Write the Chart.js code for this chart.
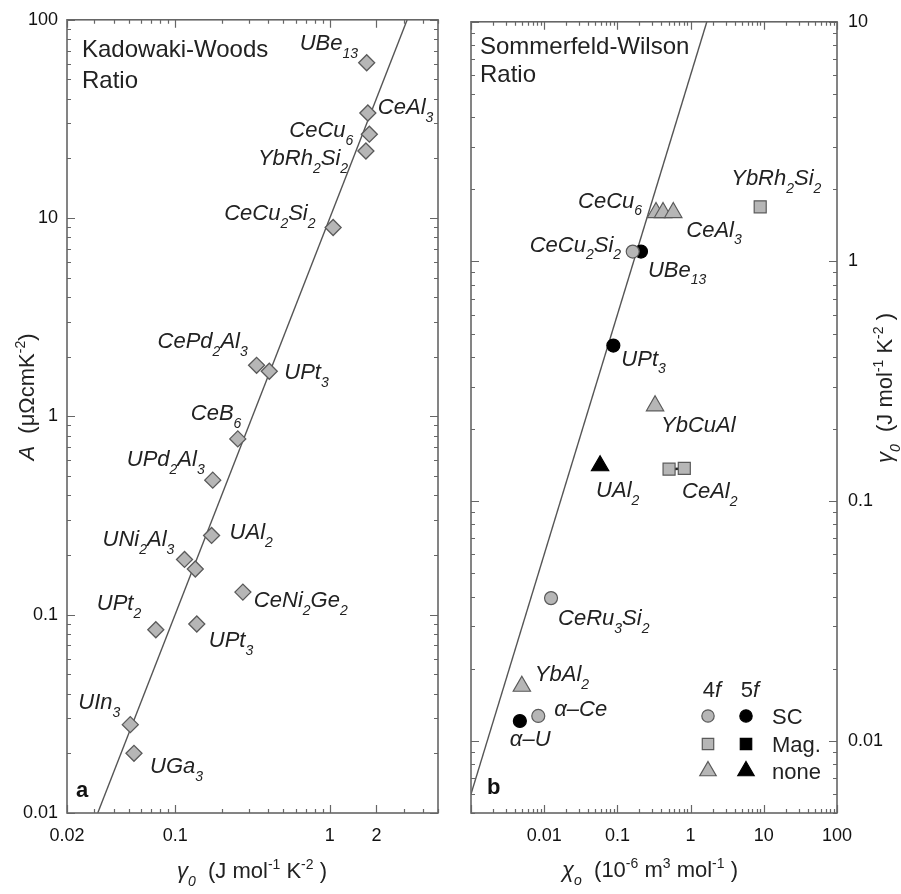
<!DOCTYPE html>
<html>
<head>
<meta charset="utf-8">
<script src="https://cdn.jsdelivr.net/npm/chart.js@4.4.0/dist/chart.umd.min.js"></script>
<style>
  html, body { margin: 0; padding: 0; background: #fff; }
  #wrap { position: relative; width: 901px; height: 894px; }
  #left { position: absolute; left: 0; top: 0; }
  #right { position: absolute; left: 450px; top: 0; }
</style>
</head>
<body>
<div id="wrap">
  <canvas id="left" width="450" height="894" style="width:450px;height:894px"></canvas>
  <canvas id="right" width="451" height="894" style="width:451px;height:894px"></canvas>
</div>
<script>
const FONT = '"Liberation Sans", Arial, Helvetica, sans-serif';
const INK = '#222';
const GREY = '#b6b6b6';
const EDGE = '#5a5a5a';

// ---- panel a : Kadowaki-Woods ratio, A vs gamma0 ----
const kwNames = ['UBe_{13}', 'CeAl_3', 'CeCu_6', 'YbRh_2Si_2', 'CeCu_2Si_2', 'CePd_2Al_3', 'UPt_3', 'CeB_6',
  'UPd_2Al_3', 'UAl_2', 'UNi_2Al_3', '', 'CeNi_2Ge_2', 'UPt_2', 'UPt_3', 'UIn_3', 'UGa_3'];
const kwGamma = [1.73, 1.76, 1.80, 1.71, 1.05, 0.336, 0.406, 0.254, 0.175, 0.172, 0.115, 0.135, 0.274, 0.075, 0.138, 0.0513, 0.0542];
const kwA = [60.7, 33.9, 26.5, 21.8, 8.97, 1.81, 1.69, 0.77, 0.477, 0.251, 0.19, 0.17, 0.13, 0.084, 0.0898, 0.0279, 0.020];
const kwLineGamma = [0.0316, 3.16];
const kwLineA = [0.01, 100];
const kwXTicks = [0.02, 0.1, 1, 2];
const kwYTicks = [0.01, 0.1, 1, 10, 100];

// ---- panel b : Sommerfeld-Wilson ratio, gamma0 vs chi0 ----
const swNames = ['CeCu_6', '', 'CeAl_3', 'YbRh_2Si_2', 'CeCu_2Si_2', 'UBe_{13}', 'UPt_3', 'YbCuAl', 'UAl_2',
  'CeAl_2', '', 'CeRu_3Si_2', 'YbAl_2', 'α–Ce', 'α–U'];
const swChi = [0.337, 0.42, 0.58, 8.93, 0.162, 0.21, 0.088, 0.327, 0.058, 0.508, 0.82, 0.0124, 0.00495, 0.0083, 0.00465];
const swGamma = [1.60, 1.60, 1.60, 1.69, 1.10, 1.10, 0.446, 0.25, 0.1405, 0.136, 0.137, 0.0394, 0.0169, 0.0127, 0.0121];
const swShell = ['4f', '4f', '4f', '4f', '4f', '5f', '5f', '4f', '5f', '4f', '4f', '4f', '4f', '4f', '5f'];
const swKind = ['none', 'none', 'none', 'Mag.', 'SC', 'SC', 'SC', 'none', 'none', 'Mag.', 'Mag.', 'SC', 'none', 'SC', 'SC'];
const swLineChi = [0.001, 1.667];
const swLineGamma = [0.006, 10];
const swXTicks = [0.01, 0.1, 1, 10, 100];
const swYTicks = [0.01, 0.1, 1, 10];
const legendShells = ['4f', '5f'];
const legendKinds = ['SC', 'Mag.', 'none'];

// label placement (pixels from the marker: text start, baseline)
const kwLabelOffsets = [[-67, -13], [10, 1], [-80, 3], [-108, 14], [-109, -7], [-99, -17], [15, 8], [-47, -19],
  [-86, -14], [18, 4], [-82, -13], null, [11, 15], [-59, -20], [12, 23], [-52, -16], [16, 20]];
const swLabelOffsets = [[-78, -5], null, [13, 24], [-29, -22], [-103, 0], [7, 25], [8, 20], [6, 26], [-4, 31],
  [13, 29], null, [7, 27], [13, -5], [16, 0], [-10, 25]];

const shellColor = { '4f': GREY, '5f': '#000' };
const shellEdge = { '4f': EDGE, '5f': '#000' };
const kindStyle = { 'SC': ['circle', 6.5], 'Mag.': ['rect', 8.5], 'none': ['triangle', 10] };

// ---------- rich text (italic, sub/superscripts) ----------
function parseRich(str, italic) {
  const parts = [];
  let it = italic, i = 0, buf = '';
  const flush = () => { if (buf) { parts.push({ t: buf, k: '', it }); buf = ''; } };
  while (i < str.length) {
    const c = str[i];
    if (c === '*') { flush(); it = !it; i++; }
    else if (c === '_' || c === '^') {
      flush();
      let t;
      if (str[i + 1] === '{') { const j = str.indexOf('}', i); t = str.slice(i + 2, j); i = j + 1; }
      else { t = str[i + 1]; i += 2; }
      parts.push({ t, k: c, it });
    } else { buf += c; i++; }
  }
  flush();
  return parts;
}

function drawRich(ctx, str, x, y, o) {
  const size = o.size || 22;
  const parts = parseRich(str, o.italic !== false);
  const font = p => (p.it ? 'italic ' : '') + (o.bold ? 'bold ' : '') + (p.k ? Math.round(size * 0.64) : size) + 'px ' + FONT;
  let w = 0;
  parts.forEach(p => { ctx.font = font(p); p.w = ctx.measureText(p.t).width; w += p.w; });
  let cx = o.align === 'center' ? x - w / 2 : o.align === 'right' ? x - w : x;
  ctx.save();
  ctx.fillStyle = o.color || INK;
  ctx.textBaseline = 'alphabetic';
  ctx.textAlign = 'left';
  parts.forEach(p => {
    ctx.font = font(p);
    const dy = p.k === '_' ? size * 0.36 : p.k === '^' ? -size * 0.42 : 0;
    ctx.fillText(p.t, cx, y + dy);
    cx += p.w;
  });
  ctx.restore();
}

function drawRichUp(ctx, str, x, y, o) {
  ctx.save();
  ctx.translate(x, y);
  ctx.rotate(-Math.PI / 2);
  drawRich(ctx, str, 0, 0, Object.assign({}, o, { align: 'center' }));
  ctx.restore();
}

// ---------- frame with inward ticks ----------
function decadeMarks(min, max, labelled) {
  const out = [];
  for (let d = Math.floor(Math.log10(min)); d <= Math.ceil(Math.log10(max)); d++) {
    for (let m = 1; m <= 9; m++) {
      const v = +(m * Math.pow(10, d)).toPrecision(6);
      if (v < min * 0.999 || v > max * 1.001) continue;
      out.push({ v, major: m === 1 || labelled.includes(v) });
    }
  }
  return out;
}

function framePlugin(xTicks, yTicks) {
  return {
    id: 'frame',
    afterDatasetsDraw(chart) {
      const { ctx, chartArea: a, scales } = chart;
      ctx.save();
      ctx.strokeStyle = '#666';
      ctx.lineWidth = 1.2;
      ctx.beginPath();
      decadeMarks(scales.x.min, scales.x.max, xTicks).forEach(t => {
        const px = Math.round(scales.x.getPixelForValue(t.v)) + 0.5;
        const L = t.major ? 8 : 4;
        ctx.moveTo(px, a.bottom); ctx.lineTo(px, a.bottom - L);
        ctx.moveTo(px, a.top); ctx.lineTo(px, a.top + L);
      });
      decadeMarks(scales.y.min, scales.y.max, yTicks).forEach(t => {
        const py = Math.round(scales.y.getPixelForValue(t.v)) + 0.5;
        const L = t.major ? 8 : 4;
        ctx.moveTo(a.left, py); ctx.lineTo(a.left + L, py);
        ctx.moveTo(a.right, py); ctx.lineTo(a.right - L, py);
      });
      ctx.stroke();
      ctx.lineWidth = 1.6;
      ctx.strokeRect(a.left, a.top, a.right - a.left, a.bottom - a.top);
      ctx.restore();
    }
  };
}

function labelPlugin(names, offsets) {
  return {
    id: 'pointLabels',
    afterDatasetsDraw(chart) {
      const { ctx, scales } = chart;
      const src = chart.data.datasets.find(d => d.labelSource).labelSource;
      names.forEach((n, i) => {
        if (!n || !offsets[i]) return;
        const px = scales.x.getPixelForValue(src[0][i]);
        const py = scales.y.getPixelForValue(src[1][i]);
        drawRich(ctx, n, px + offsets[i][0], py + offsets[i][1], { size: 22 });
      });
    }
  };
}

function axisScale(min, max, ticks, pos, fitSize, pad) {
  const horizontal = pos === 'bottom';
  return {
    type: 'logarithmic', position: pos, min, max, bounds: 'data',
    grid: { display: false, drawTicks: false }, border: { display: false },
    ticks: {
      autoSkip: false, maxRotation: 0, padding: pad, color: '#111',
      font: { family: FONT, size: 18 },
      callback: v => String(v)
    },
    afterBuildTicks: s => { s.ticks = ticks.map(v => ({ value: v })); },
    afterFit: s => { if (horizontal) s.height = fitSize; else s.width = fitSize; }
  };
}

// ---------- panel a ----------
const kwPoints = kwGamma.map((g, i) => ({ x: g, y: kwA[i] }));
new Chart(document.getElementById('left').getContext('2d'), {
  type: 'scatter',
  data: {
    datasets: [
      {
        data: kwPoints, labelSource: [kwGamma, kwA],
        pointStyle: 'rectRot', pointRadius: 8, pointBackgroundColor: GREY,
        pointBorderColor: EDGE, pointBorderWidth: 1.3, order: 0
      },
      {
        type: 'line', data: kwLineGamma.map((g, i) => ({ x: g, y: kwLineA[i] })),
        borderColor: '#555', borderWidth: 1.4, pointRadius: 0, order: 1
      }
    ]
  },
  options: {
    responsive: false, animation: false, events: [],
    layout: { padding: { left: 0, right: 12, top: 14, bottom: 0 } },
    plugins: { legend: { display: false }, tooltip: { enabled: false } },
    scales: {
      x: axisScale(0.02, 5, kwXTicks, 'bottom', 81, 12),
      y: axisScale(0.01, 100, kwYTicks, 'left', 67, 9)
    }
  },
  plugins: [
    framePlugin(kwXTicks, kwYTicks),
    labelPlugin(kwNames, kwLabelOffsets),
    {
      id: 'decorA',
      afterDraw(chart) {
        const ctx = chart.ctx;
        drawRich(ctx, 'Kadowaki-Woods', 82, 57, { size: 24, italic: false });
        drawRich(ctx, 'Ratio', 82, 88, { size: 24, italic: false });
        drawRich(ctx, 'a', 76, 797, { size: 22, italic: false, bold: true, color: '#111' });
        drawRich(ctx, '*γ_0*  (J mol^{-1} K^{-2} )', 252, 878, { size: 22, italic: false, align: 'center' });
        drawRichUp(ctx, '*A*  (μΩcmK^{-2})', 34, 397, { size: 22, italic: false });
      }
    }
  ]
});

// ---------- panel b ----------
const swDatasets = [];
legendShells.forEach((shell, si) => {
  legendKinds.forEach(kind => {
    const pts = swChi.map((c, i) => ({ x: c, y: swGamma[i], i }))
      .filter(p => swShell[p.i] === shell && swKind[p.i] === kind);
    if (!pts.length) return;
    swDatasets.push({
      data: pts, pointStyle: kindStyle[kind][0], pointRadius: kindStyle[kind][1],
      pointBackgroundColor: shellColor[shell], pointBorderColor: shellEdge[shell],
      pointBorderWidth: 1.2, order: si
    });
  });
});
const ceAl2Pair = [9, 10];
swDatasets.push({
  type: 'line', data: ceAl2Pair.map(i => ({ x: swChi[i], y: swGamma[i] })),
  borderColor: '#222', borderWidth: 2.5, pointRadius: 0, order: 2
});
swDatasets.push({
  type: 'line', data: swLineChi.map((c, i) => ({ x: c, y: swLineGamma[i] })),
  borderColor: '#555', borderWidth: 1.4, pointRadius: 0, order: 3, labelSource: [swChi, swGamma]
});

new Chart(document.getElementById('right').getContext('2d'), {
  type: 'scatter',
  data: { datasets: swDatasets },
  options: {
    responsive: false, animation: false, events: [],
    layout: { padding: { left: 21, right: 0, top: 13, bottom: 0 } },
    plugins: { legend: { display: false }, tooltip: { enabled: false } },
    scales: {
      x: axisScale(0.001, 100, swXTicks, 'bottom', 81, 12),
      y: axisScale(0.005, 10, swYTicks, 'right', 64, 11)
    }
  },
  plugins: [
    framePlugin(swXTicks, swYTicks),
    labelPlugin(swNames, swLabelOffsets),
    {
      id: 'decorB',
      afterDraw(chart) {
        const ctx = chart.ctx;
        drawRich(ctx, 'Sommerfeld-Wilson', 30, 54, { size: 24, italic: false });
        drawRich(ctx, 'Ratio', 30, 82, { size: 24, italic: false });
        drawRich(ctx, 'b', 37, 794, { size: 22, italic: false, bold: true, color: '#111' });
        drawRich(ctx, '*χ_o*  (10^{-6} m^3 mol^{-1} )', 200, 877, { size: 22, italic: false, align: 'center' });
        drawRichUp(ctx, '*γ_0*  (J mol^{-1} K^{-2} )', 442, 388, { size: 22, italic: false });
        // legend: grey = 4f, black = 5f
        const colX = [258, 296];
        const rowY = [716, 744, 771];
        legendShells.forEach((s, c) => {
          drawRich(ctx, s.replace('f', '*f*'), colX[c] + 4, 697, { size: 22, italic: false, align: 'center' });
          legendKinds.forEach((k, r) => {
            ctx.save();
            ctx.fillStyle = shellColor[s];
            ctx.strokeStyle = shellEdge[s];
            ctx.lineWidth = 1.2;
            Chart.helpers.drawPoint(ctx, {
              pointStyle: kindStyle[k][0], radius: kindStyle[k][1] * 0.95, rotation: 0, borderWidth: 1.2
            }, colX[c], rowY[r]);
            ctx.restore();
          });
        });
        legendKinds.forEach((k, r) => {
          drawRich(ctx, k, 322, rowY[r] + 8, { size: 22, italic: false });
        });
      }
    }
  ]
});
</script>
</body>
</html>
